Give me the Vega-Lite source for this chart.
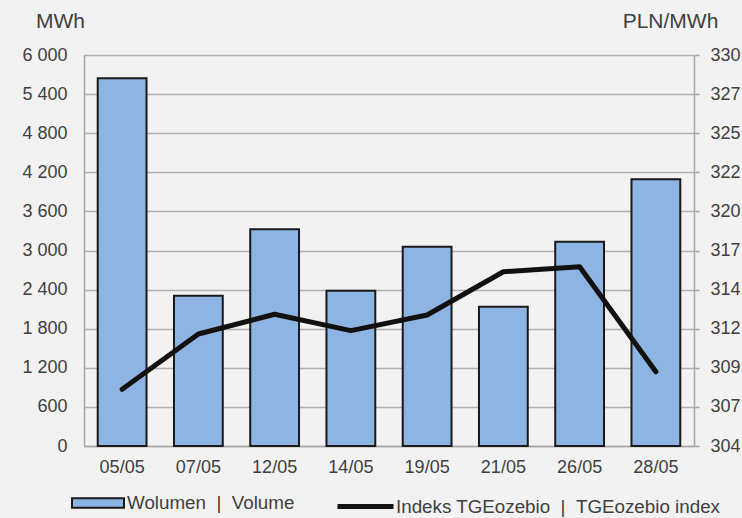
{
  "$schema": "https://vega.github.io/schema/vega-lite/v6.json",
  "width": 610,
  "height": 391,
  "autosize": {"type": "none"},
  "padding": {"left": 84, "top": 55, "right": 48, "bottom": 72},
  "background": "#f2f2f2",
  "config": {
    "view": {"stroke": null},
    "font": "Liberation Sans",
    "axis": {
      "labelFontSize": 18,
      "labelColor": "#404040",
      "titleFontSize": 21,
      "titleFontWeight": "normal",
      "titleColor": "#404040",
      "domainColor": "#a6a6a6",
      "domainWidth": 1.5,
      "tickColor": "#a6a6a6",
      "tickWidth": 1.5
    },
    "legend": {"labelFontSize": 18.8, "labelColor": "#404040", "labelLimit": 0}
  },
  "data": {
    "values": [
      {"date": "05/05", "volume": 5642, "index": 307.77},
      {"date": "07/05", "volume": 2306, "index": 311.45},
      {"date": "12/05", "volume": 3325, "index": 312.76},
      {"date": "14/05", "volume": 2383, "index": 311.67},
      {"date": "19/05", "volume": 3058, "index": 312.71},
      {"date": "21/05", "volume": 2138, "index": 315.59},
      {"date": "26/05", "volume": 3135, "index": 315.92},
      {"date": "28/05", "volume": 4092, "index": 308.94}
    ]
  },
  "encoding": {
    "x": {
      "field": "date",
      "type": "ordinal",
      "sort": null,
      "scale": {"paddingInner": 0.36, "paddingOuter": 0.18},
      "axis": {"title": null, "labelAngle": 0, "ticks": false, "labelPadding": 12}
    }
  },
  "layer": [
    {
      "mark": {"type": "bar", "stroke": "#1a1a1a", "strokeWidth": 2},
      "encoding": {
        "y": {
          "field": "volume",
          "type": "quantitative",
          "scale": {"domain": [0, 6000], "nice": false, "zero": true},
          "axis": {
            "orient": "left",
            "title": "MWh",
            "titleAngle": 0,
            "titleAlign": "center",
            "titleBaseline": "alphabetic",
            "titleX": -24,
            "titleY": -28,
            "values": [0, 600, 1200, 1800, 2400, 3000, 3600, 4200, 4800, 5400, 6000],
            "labelExpr": "replace(format(datum.value, ','), ',', ' ')",
            "grid": true,
            "gridColor": "#b0b0b0",
            "gridWidth": 1.5,
            "ticks": false,
            "tickSize": 0,
            "labelPadding": 17
          }
        },
        "fill": {
          "datum": "Wolumen\u00a0\u00a0|\u00a0\u00a0Volume",
          "type": "nominal",
          "scale": {"range": ["#8eb4e3"]},
          "legend": {
            "orient": "none",
            "legendX": -13,
            "legendY": 421,
            "title": null,
            "symbolType": "M-1,-0.18H1V0.18H-1Z",
            "symbolSize": 2704,
            "symbolStrokeColor": "#1a1a1a",
            "symbolStrokeWidth": 2,
            "labelOffset": 2
          }
        }
      }
    },
    {
      "mark": {"type": "line", "strokeWidth": 5, "strokeCap": "round", "strokeJoin": "round"},
      "encoding": {
        "y": {
          "field": "index",
          "type": "quantitative",
          "scale": {"domain": [304, 330], "nice": false, "zero": false},
          "axis": {
            "orient": "right",
            "title": "PLN/MWh",
            "titleAngle": 0,
            "titleAlign": "center",
            "titleBaseline": "alphabetic",
            "titleX": -24,
            "titleY": -28,
            "values": [304, 306.6, 309.2, 311.8, 314.4, 317, 319.6, 322.2, 324.8, 327.4, 330],
            "format": ".0f",
            "grid": false,
            "tickSize": 5,
            "labelPadding": 11
          }
        },
        "stroke": {
          "datum": "Indeks TGEozebio\u00a0\u00a0|\u00a0\u00a0TGEozebio index",
          "type": "nominal",
          "scale": {"range": ["#121110"]},
          "legend": {
            "orient": "none",
            "legendX": 251,
            "legendY": 421,
            "title": null,
            "symbolType": "stroke",
            "symbolSize": 3136,
            "symbolStrokeWidth": 5,
            "labelOffset": 0
          }
        }
      }
    }
  ],
  "resolve": {"scale": {"y": "independent"}}
}
